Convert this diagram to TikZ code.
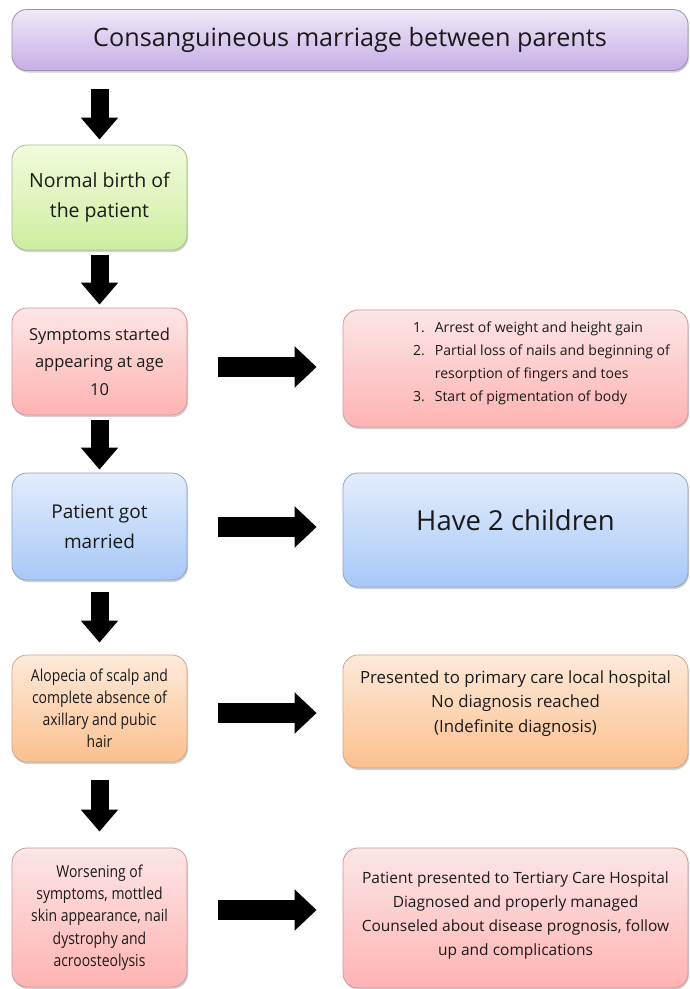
\documentclass[tikz,border=0pt]{standalone}
\usepackage{fontspec}
\setmainfont{Open Sans}
\newfontfamily\condfont[FakeStretch=0.85]{Open Sans}
\usetikzlibrary{arrows.meta,shadows,calc}
\newcommand{\shiftup}[2]{\raisebox{#1}[0pt][0pt]{#2}}
\definecolor{txt}{HTML}{1A1A1A}
\definecolor{pT}{HTML}{EFE8F9}\definecolor{pB}{HTML}{C6AEE5}\definecolor{pD}{HTML}{9C90AA}
\definecolor{gT}{HTML}{F2FBDC}\definecolor{gB}{HTML}{CDEEA0}\definecolor{gD}{HTML}{A8BA90}
\definecolor{rT}{HTML}{FCE6E6}\definecolor{rB}{HTML}{FFB3B3}\definecolor{rD}{HTML}{C79C9C}
\definecolor{bT}{HTML}{E3EDFC}\definecolor{bB}{HTML}{A8C8F7}\definecolor{bD}{HTML}{8FA3C0}
\definecolor{oT}{HTML}{FDEADA}\definecolor{oB}{HTML}{FBC08E}\definecolor{oD}{HTML}{CBA98B}
\tikzset{
  box/.style={draw, line width=0.8pt, rounded corners=15pt, align=center, text=txt,
    inner sep=4pt, drop shadow={shadow xshift=1pt, shadow yshift=-2pt, opacity=0.3, fill=black!60}},
  purplebox/.style={box, draw=pD, top color=pT, bottom color=pB},
  greenbox/.style={box, draw=gD, top color=gT, bottom color=gB},
  redbox/.style={box, draw=rD, top color=rT, bottom color=rB},
  bluebox/.style={box, draw=bD, top color=bT, bottom color=bB},
  orangebox/.style={box, draw=oD, top color=oT, bottom color=oB},
  leftbox/.style={minimum width=175pt},
  rightbox/.style={minimum width=345pt},
  downarrow/.style={draw=black, line width=18pt, -{Triangle[width=36pt,length=22pt]}},
  rightarrow/.style={draw=black, line width=20pt, -{Triangle[width=40pt,length=22pt]}, shorten <=31pt, shorten >=26pt},
}
\begin{document}
\begin{tikzpicture}[x=1pt,y=-1pt]
\useasboundingbox (0,0) rectangle (689,989);
% left column
\node[purplebox, minimum width=676pt, minimum height=61pt, font=\fontsize{25.2}{28}\selectfont] (top) at (350,40) {Consanguineous marriage between parents};
\node[greenbox, leftbox, minimum height=105pt, font=\fontsize{19.5}{30}\selectfont] (birth) at (99.5,197.5) {Normal birth of\\the patient};
\node[redbox, leftbox, minimum height=107pt, font=\fontsize{16.5}{27.5}\selectfont] (symp) at (99.5,361.5) {Symptoms started\\appearing at age\\10};
\node[bluebox, leftbox, minimum height=107pt, font=\fontsize{19}{30}\selectfont] (married) at (99.5,526.5) {Patient got\\married};
\node[orangebox, leftbox, minimum height=107pt, font=\condfont\fontsize{16.4}{22}\selectfont] (alop) at (99.5,708.5) {Alopecia of scalp and\\complete absence of\\axillary and pubic\\hair};
\node[redbox, leftbox, minimum height=139pt, font=\condfont\fontsize{16.4}{22.3}\selectfont] (worse) at (99.5,917.5) {Worsening of\\symptoms, mottled\\skin appearance, nail\\dystrophy and\\acroosteolysis};
% right column
\node[redbox, rightbox, minimum height=117pt, font=\fontsize{14}{23}\selectfont] (list) at (515.5,368.5) {\shiftup{3pt}{\begin{tabular}{@{\hspace{52pt}}r@{\hspace{10pt}}l@{}}1. & Arrest of weight and height gain\\2. & Partial loss of nails and beginning of\\ & resorption of fingers and toes\\3. & Start of pigmentation of body\end{tabular}}};
\node[bluebox, rightbox, minimum height=114pt, font=\fontsize{27.5}{30}\selectfont] (children) at (515.5,530) {\shiftup{0pt}{Have 2 children}};
\node[orangebox, rightbox, minimum height=113pt, font=\fontsize{16.8}{24.5}\selectfont] (primary) at (515.5,711.5) {\shiftup{4.5pt}{\begin{tabular}{@{}c@{}}Presented to primary care local hospital\\No diagnosis reached\\(Indefinite diagnosis)\end{tabular}}};
\node[redbox, rightbox, minimum height=140pt, font=\fontsize{15.5}{24}\selectfont] (tertiary) at (515.5,918) {\shiftup{0pt}{\begin{tabular}{@{}c@{}}Patient presented to Tertiary Care Hospital\\Diagnosed and properly managed\\Counseled about disease prognosis, follow\\up and complications\end{tabular}}};
% down arrows
\draw[downarrow, shorten <=18pt, shorten >=5pt] (birth.north |- top.south) -- (birth.north);
\draw[downarrow, shorten <=5pt, shorten >=3pt] (birth.south) -- (symp.north);
\draw[downarrow, shorten <=5pt, shorten >=3pt] (symp.south) -- (married.north);
\draw[downarrow, shorten <=12pt, shorten >=12pt] (married.south) -- (alop.north);
\draw[downarrow, shorten <=18pt, shorten >=16pt] (alop.south) -- (worse.north);
% right arrows
\coordinate (y1) at (0,367);
\coordinate (y2) at (0,527);
\coordinate (y3) at (0,713);
\coordinate (y4) at (0,910);
\draw[rightarrow] (symp.east |- y1) -- (list.west |- y1);
\draw[rightarrow] (married.east |- y2) -- (children.west |- y2);
\draw[rightarrow] (alop.east |- y3) -- (primary.west |- y3);
\draw[rightarrow] (worse.east |- y4) -- (tertiary.west |- y4);
\end{tikzpicture}
\end{document}
